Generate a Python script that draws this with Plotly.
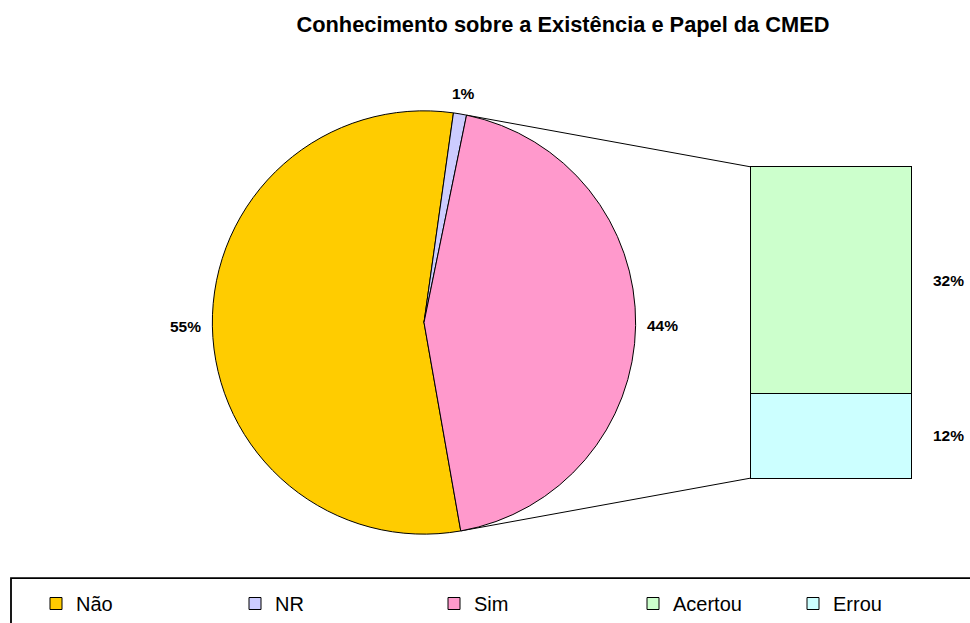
import math
import plotly.graph_objects as go

# ---- data ----
pie_labels = ["Não", "NR", "Sim"]
pie_values = [55, 1, 44]
pie_colors = ["#FFCC00", "#CCCCFF", "#FF99CC"]

bar_labels = ["Acertou", "Errou"]
bar_values = [32, 12]
bar_colors = ["#CCFFCC", "#CCFFFF"]

title_text = "Conhecimento sobre a Existência e Papel da CMED"

# ---- layout geometry (pixels) ----
W, H = 970, 623
FONT = "Liberation Sans, Arial, sans-serif"
pie_cx, pie_cy, pie_r = 424, 323, 212
rotation = 170
bar_x0, bar_x1 = 750, 911
bar_top, bar_bot = 167, 479
PAD = 3  # px of extra axis room so bar outlines are not clipped

def px2paper_x(px):
    return px / W

def px2paper_y(py):
    return 1 - py / H

fig = go.Figure()

fig.add_trace(go.Pie(
    labels=pie_labels,
    values=pie_values,
    sort=False,
    direction="clockwise",
    rotation=rotation,
    marker=dict(colors=pie_colors, line=dict(color="black", width=1)),
    textinfo="none",
    domain=dict(x=[px2paper_x(pie_cx - pie_r), px2paper_x(pie_cx + pie_r)],
                y=[px2paper_y(pie_cy + pie_r), px2paper_y(pie_cy - pie_r)]),
    hoverinfo="label+percent",
    showlegend=True,
    legendrank=1,
    legendwidth=154,
))

# pie percentage labels, placed just outside each slice's mid-angle
tot = sum(pie_values)
acc = 0
for lab, v in zip(pie_labels, pie_values):
    mid = math.radians(rotation + 360 * (acc + v / 2) / tot)
    acc += v
    s, c = math.sin(mid), math.cos(mid)
    d = pie_r + 10 + abs(s) * 16 + abs(c) * 8
    fig.add_annotation(
        x=px2paper_x(pie_cx + d * s), y=px2paper_y(pie_cy - d * c),
        xref="paper", yref="paper", xanchor="center", yanchor="middle",
        text="<b>%d%%</b>" % round(100 * v / tot), showarrow=False,
        font=dict(family=FONT, size=15.5, color="black"),
    )

# stacked bar: bottom segment first
total_bar = sum(bar_values)
bar_w_px = bar_x1 - bar_x0
bar_h_px = bar_bot - bar_top
order = list(reversed(range(len(bar_labels))))
leg_widths = {0: 115, 1: 60}
for i in order:
    fig.add_trace(go.Bar(
        x=[0], y=[bar_values[i]], name=bar_labels[i],
        marker=dict(color=bar_colors[i], line=dict(color="black", width=1)),
        width=1, xaxis="x2", yaxis="y2",
        legendrank=2 + i, legendwidth=leg_widths[i],
        hoverinfo="name+y",
    ))

# percentage labels next to bar segments (computed from data)
cum = 0
mids = {}
for i in order:
    mids[i] = cum + bar_values[i] / 2
    cum += bar_values[i]
for i in range(len(bar_labels)):
    fig.add_annotation(
        x=0.5, y=mids[i], xref="x2", yref="y2",
        text="<b>%d%%</b>" % round(bar_values[i]), showarrow=False,
        xanchor="left", xshift=20,
        font=dict(family=FONT, size=15.5, color="black"),
    )

# connector lines from the "Sim" slice edges to the bar corners
start_deg = rotation + 360 * sum(pie_values[:2]) / tot
end_deg = start_deg + 360 * pie_values[2] / tot
def pie_pt(deg):
    a = math.radians(deg)
    return pie_cx + pie_r * math.sin(a), pie_cy - pie_r * math.cos(a)
sx, sy = pie_pt(start_deg)
ex, ey = pie_pt(end_deg)
for (px_, py_), (bx, by) in [((sx, sy), (bar_x0, bar_top)), ((ex, ey), (bar_x0, bar_bot))]:
    fig.add_shape(type="line", xref="paper", yref="paper",
                  x0=px2paper_x(px_), y0=px2paper_y(py_),
                  x1=px2paper_x(bx), y1=px2paper_y(by),
                  line=dict(color="black", width=1), layer="below")

# legend frame
fig.add_shape(type="rect", xref="paper", yref="paper",
              x0=px2paper_x(11), y0=px2paper_y(660),
              x1=px2paper_x(990), y1=px2paper_y(579),
              line=dict(color="black", width=1.8), fillcolor="rgba(0,0,0,0)")

xpad = PAD / bar_w_px
ypad = PAD / bar_h_px * total_bar
fig.update_layout(
    width=W, height=H,
    margin=dict(l=0, r=0, t=0, b=0),
    paper_bgcolor="white", plot_bgcolor="rgba(0,0,0,0)",
    font=dict(family=FONT, color="black"),
    title=dict(text="<b>" + title_text + "</b>", x=563 / W, xanchor="center",
               y=1 - 24 / H, yanchor="middle",
               font=dict(family=FONT, size=21.8, color="black")),
    barmode="stack",
    xaxis2=dict(domain=[px2paper_x(bar_x0 - PAD), px2paper_x(bar_x1 + PAD)],
                range=[-0.5 - xpad, 0.5 + xpad],
                visible=False, fixedrange=True, anchor="y2"),
    yaxis2=dict(domain=[px2paper_y(bar_bot + PAD), px2paper_y(bar_top - PAD)],
                range=[-ypad, total_bar + ypad],
                visible=False, fixedrange=True, anchor="x2"),
    showlegend=True,
    legend=dict(orientation="h", x=px2paper_x(36), xanchor="left",
                y=px2paper_y(585), yanchor="top",
                font=dict(family=FONT, size=20, color="black"),
                bgcolor="rgba(0,0,0,0)", borderwidth=0,
                traceorder="normal"),
)

fig.write_html(
    "out.html",
    config={"displayModeBar": False},
    post_script="document.body.style.margin='0px';document.body.style.overflow='hidden';",
)
